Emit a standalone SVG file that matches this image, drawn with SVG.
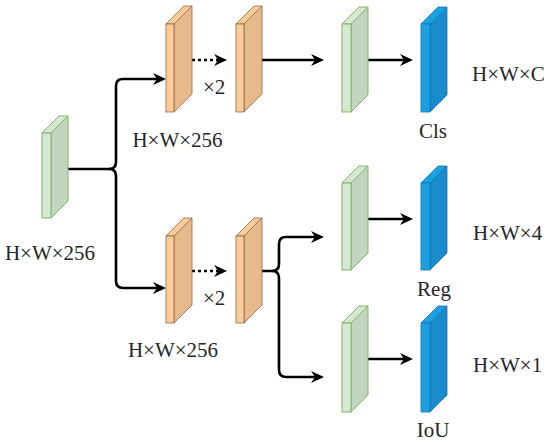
<svg xmlns="http://www.w3.org/2000/svg" width="550" height="442" viewBox="0 0 550 442">
<defs>
<marker id="arr" markerUnits="userSpaceOnUse" markerWidth="14" markerHeight="12" refX="4" refY="6" orient="auto" viewBox="0 0 14 12">
<path d="M0,0 L13,6 L0,12 L4,6 z" fill="#000"/>
</marker>
</defs>
<style>
.ln{fill:none;stroke:#000;stroke-width:2.6}
.dot{fill:none;stroke:#000;stroke-width:2.6;stroke-dasharray:3 3}
.t{font-family:'Liberation Serif','DejaVu Serif',serif;font-size:21px;fill:#262626}
.gf{fill:#d5e8d4;stroke:#82b366;stroke-width:1}
.gs{fill:#c3d4c1;stroke:#82b366;stroke-width:1}
.of{fill:#ffcc99;stroke:#8a6a4a;stroke-width:0.8}
.os{fill:#e8b98b;stroke:#8a6a4a;stroke-width:0.8}
.bf{fill:#1ba1e2;stroke:#1477b5;stroke-width:0.8}
.bs{fill:#1a8ccc;stroke:#1477b5;stroke-width:0.8}
</style>
<g id="connectors">
<path class="ln" d="M68,169 H109 Q116,169 116,162 V86 Q116,79 123,79 H157" marker-end="url(#arr)"/>
<path class="ln" d="M109,169 Q116,169 116,176 V281 Q116,288 123,288 H157" marker-end="url(#arr)"/>
<path class="dot" d="M192,60 H218" marker-end="url(#arr)"/>
<path class="dot" d="M192,271 H218" marker-end="url(#arr)"/>
<path class="ln" d="M262,60 H315" marker-end="url(#arr)"/>
<path class="ln" d="M262,271 H272 Q279,271 279,264 V244 Q279,237 286,237 H315" marker-end="url(#arr)"/>
<path class="ln" d="M272,271 Q279,271 279,278 V370 Q279,377 286,377 H315" marker-end="url(#arr)"/>
<path class="ln" d="M368,60 H404" marker-end="url(#arr)"/>
<path class="ln" d="M368,219 H404" marker-end="url(#arr)"/>
<path class="ln" d="M368,359 H404" marker-end="url(#arr)"/>
</g>
<g id="input">
<polygon class="gs" points="51,133 68,116 68,201 51,218"/>
<polygon class="gf" points="42,133 59,116 68,116 51,133"/>
<rect class="gf" x="42" y="133" width="9" height="85"/>
<text class="t" font-family="Liberation Serif, serif" x="50" y="260" text-anchor="middle">H×W×256</text>
</g>
<g id="cls-conv1">
<polygon class="os" points="174,24 192,6 192,94 174,112"/>
<polygon class="of" points="166,24 184,6 192,6 174,24"/>
<rect class="of" x="166" y="24" width="8" height="88"/>
<text class="t" x="177.5" y="147" text-anchor="middle">H×W×256</text>
</g>
<g id="cls-x2"><text class="t" x="203" y="94">×2</text></g>
<g id="cls-conv2">
<polygon class="os" points="244,24 262,6 262,94 244,112"/>
<polygon class="of" points="236,24 254,6 262,6 244,24"/>
<rect class="of" x="236" y="24" width="8" height="88"/>
</g>
<g id="reg-conv1">
<polygon class="os" points="174,236 192,218 192,305 174,323"/>
<polygon class="of" points="166,236 184,218 192,218 174,236"/>
<rect class="of" x="166" y="236" width="8" height="87"/>
<text class="t" x="173" y="357" text-anchor="middle">H×W×256</text>
</g>
<g id="reg-x2"><text class="t" x="203" y="305">×2</text></g>
<g id="reg-conv2">
<polygon class="os" points="244,236 262,218 262,305 244,323"/>
<polygon class="of" points="236,236 254,218 262,218 244,236"/>
<rect class="of" x="236" y="236" width="8" height="87"/>
</g>
<g id="cls-green">
<polygon class="gs" points="351,24 368,7 368,95 351,112"/>
<polygon class="gf" points="342,24 359,7 368,7 351,24"/>
<rect class="gf" x="342" y="24" width="9" height="88"/>
</g>
<g id="cls-out">
<polygon class="bs" points="430,24 447,7 447,95 430,112"/>
<polygon class="bf" points="421,24 438,7 447,7 430,24"/>
<rect class="bf" x="421" y="24" width="9" height="88"/>
<text class="t" x="433" y="138" text-anchor="middle">Cls</text>
<text class="t" x="472" y="81">H×W×C</text>
</g>
<g id="reg-green">
<polygon class="gs" points="351,183 368,166 368,253 351,270"/>
<polygon class="gf" points="342,183 359,166 368,166 351,183"/>
<rect class="gf" x="342" y="183" width="9" height="87"/>
</g>
<g id="reg-out">
<polygon class="bs" points="430,183 447,166 447,253 430,270"/>
<polygon class="bf" points="421,183 438,166 447,166 430,183"/>
<rect class="bf" x="421" y="183" width="9" height="87"/>
<text class="t" x="434" y="296" text-anchor="middle">Reg</text>
<text class="t" x="473" y="240">H×W×4</text>
</g>
<g id="iou-green">
<polygon class="gs" points="351,323 368,306 368,395 351,412"/>
<polygon class="gf" points="342,323 359,306 368,306 351,323"/>
<rect class="gf" x="342" y="323" width="9" height="89"/>
</g>
<g id="iou-out">
<polygon class="bs" points="430,323 447,306 447,395 430,412"/>
<polygon class="bf" points="421,323 438,306 447,306 430,323"/>
<rect class="bf" x="421" y="323" width="9" height="89"/>
<text class="t" x="433" y="437" text-anchor="middle">IoU</text>
<text class="t" x="473" y="372">H×W×1</text>
</g>
</svg>
